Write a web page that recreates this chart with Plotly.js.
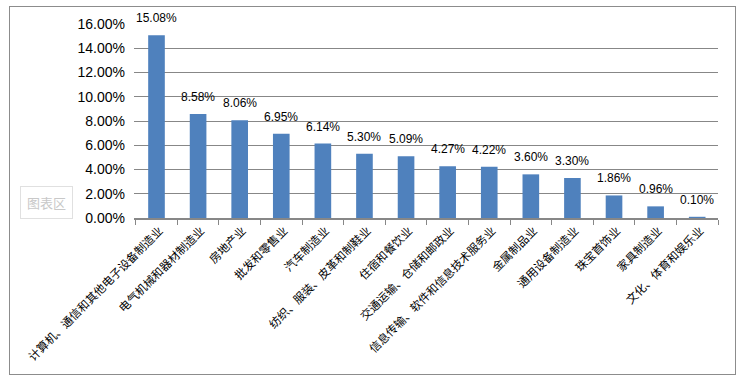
<!DOCTYPE html>
<html><head><meta charset="utf-8">
<script src="https://cdn.plot.ly/plotly-3.0.1.min.js"></script>
<style>
html,body{margin:0;padding:0;background:#fff;}
#wrap{position:relative;width:740px;height:380px;}
#chart{position:absolute;left:0;top:0;width:740px;height:380px;}
#frame{position:absolute;left:9px;top:6px;width:725px;height:367px;border:1.5px solid #8c8c8c;pointer-events:none;}
</style></head>
<body>
<div id="wrap"><div id="chart"></div><div id="frame"></div></div>
<script>
const categories = ["计算机、通信和其他电子设备制造业","电气机械和器材制造业","房地产业","批发和零售业","汽车制造业","纺织、服装、皮革和制鞋业","住宿和餐饮业","交通运输、仓储和邮政业","信息传输、软件和信息技术服务业","金属制品业","通用设备制造业","珠宝首饰业","家具制造业","文化、体育和娱乐业"];
const values = [0.1508,0.0858,0.0806,0.0695,0.0614,0.0530,0.0509,0.0427,0.0422,0.0360,0.0330,0.0186,0.0096,0.0010];
const yTicks = [0,0.02,0.04,0.06,0.08,0.10,0.12,0.14,0.16];

const trace = {
  type:'bar', x:categories, y:values,
  marker:{color:'#4F81BD'},
  hoverinfo:'none'
};
const labelAnns = categories.map((c,i) => ({
  x:c, y:values[i], xref:'x', yref:'y',
  text:(values[i]*100).toFixed(2)+'%', showarrow:false,
  xanchor:'center', yanchor:'bottom', yshift:8,
  font:{family:'Liberation Sans, Arial, sans-serif', size:12, color:'#000'}
}));
const layout = {
  width:740, height:380,
  margin:{l:134, r:22, t:24, b:162},
  paper_bgcolor:'rgba(0,0,0,0)', plot_bgcolor:'#fff',
  bargap:0.6, showlegend:false,
  xaxis:{
    type:'category', tickangle:-45, tickson:'boundaries',
    ticks:'outside', ticklen:5, tickcolor:'#878787',
    showline:true, linecolor:'#878787', linewidth:1.5,
    showgrid:false, ticklabelshift:3,
    tickfont:{family:'Noto Sans CJK SC, sans-serif', size:11.5, color:'#000'}
  },
  yaxis:{
    range:[0,0.16], tickvals:yTicks, tickformat:'.2%',
    showgrid:true, gridcolor:'#878787', gridwidth:1,
    zeroline:false, showline:false, ticks:'', ticklabelstandoff:8,
    tickfont:{family:'Liberation Sans, Arial, sans-serif', size:14, color:'#000'}
  },
  annotations:labelAnns.concat([{
    xref:'paper', yref:'paper', x:-0.195, y:0.082, xanchor:'left', yanchor:'middle',
    text:'图表区', showarrow:false,
    font:{family:'Noto Sans CJK SC, sans-serif', size:13, color:'#c8c8c8'},
    bgcolor:'#fff', bordercolor:'#e0e0e0', borderwidth:1, borderpad:6
  }])
};
Plotly.newPlot('chart',[trace],layout,{staticPlot:true});
</script>
</body></html>
